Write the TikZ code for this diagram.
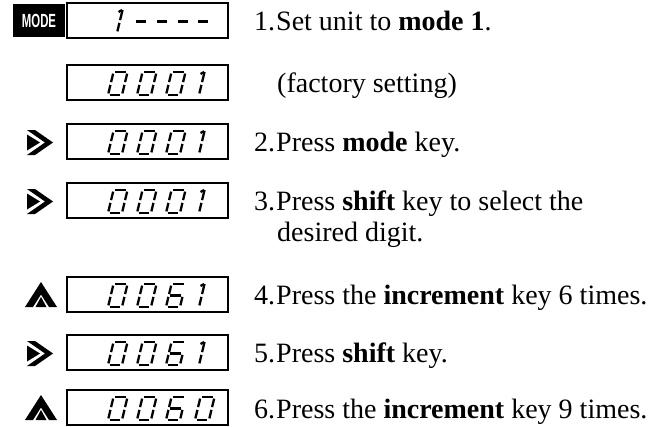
\documentclass[tikz,border=0pt]{standalone}
\usepackage{fontspec}
\setmainfont{Liberation Serif}
\setsansfont{Liberation Sans}
\usepackage{graphicx}
\usetikzlibrary{positioning}

\tikzset{
  display/.style={draw, line width=1.6pt, minimum width=161pt, minimum height=35pt, inner sep=0pt},
  segline/.style={line width=2.3pt, line cap=butt},
  dashseg/.style={line width=2.8pt, line cap=butt},
  steptext/.style={anchor=base west, inner sep=0pt, font=\fontsize{28}{32}\selectfont},
  keycap/.style={fill=black, text=white, minimum width=52pt, minimum height=33pt, inner sep=0pt,
    font=\sffamily\bfseries\fontsize{19}{19}\selectfont},
}

% segments of one seven-segment cell (w=14, h=23)
\def\sega{\draw[segline] (1.6,23) -- (12.4,23);}
\def\segb{\draw[segline] (14,21.4) -- (14,12.9);}
\def\segc{\draw[segline] (14,10.1) -- (14,1.6);}
\def\segd{\draw[segline] (1.6,0) -- (12.4,0);}
\def\sege{\draw[segline] (0,1.6) -- (0,10.1);}
\def\segf{\draw[segline] (0,12.9) -- (0,21.4);}
\def\segg{\draw[segline] (1.6,11.5) -- (12.4,11.5);}
% #1 = x of cell, #2 = y of bottom, #3 = segments
\newcommand\lcddigit[3]{%
  \begin{scope}[shift={(#1,#2)}, y=1pt, xslant=0.24]
    \foreach \s in {#3} {\csname seg\s\endcsname}
  \end{scope}}
% narrow one, #1 = x of stroke, #2 = y of bottom
\newcommand\lcdone[2]{%
  \begin{scope}[shift={(#1,#2)}, y=1pt, xslant=0.24]
    \draw[segline] (0,1.6) -- (0,10.1);
    \draw[segline] (0,12.9) -- (0,23);
    \draw[segline] (-3.5,21) -- (-0.5,23);
  \end{scope}}

\begin{document}
\begin{tikzpicture}[x=1pt, y=-1pt]
  \useasboundingbox (0,0) rectangle (658,426);

  % ---- step 1: mode key
  \node[keycap] (modekey) at (39,20.5) {\scalebox{0.6}[1]{MODE}};
  \node[display] (disp1) at (147.5,20.5) {};
  \lcdone{117}{33}
  \begin{scope}[shift={(0,33)}, y=1pt, xslant=0.24]
    \foreach \x in {133,154,175,195} \draw[dashseg] (\x,11.5) -- ++(10,0);
  \end{scope}

  % ---- factory setting, steps 2 and 3
  \foreach \t in {65,124,183} {
    \node[display] at (147.5,\t+17.5) {};
    \foreach \cx in {108,137,166} {\lcddigit{\cx}{\t+30}{a,b,c,d,e,f}}
    \lcdone{199}{\t+30}
  }

  % ---- steps 4 and 5
  \foreach \t in {277,335} {
    \node[display] at (147.5,\t+17.5) {};
    \lcddigit{108}{\t+30}{a,b,c,d,e,f}
    \lcddigit{137}{\t+30}{a,b,c,d,e,f}
    \lcddigit{166}{\t+30}{a,c,d,e,f,g}
    \lcdone{199}{\t+30}
  }

  % ---- step 6
  \node[display] (disp7) at (147.5,407.5) {};
  \lcddigit{108}{420}{a,b,c,d,e,f}
  \lcddigit{137}{420}{a,b,c,d,e,f}
  \lcddigit{166}{420}{a,c,d,e,f,g}
  \lcddigit{195}{420}{a,b,c,d,e,f}

  % ---- shift key
  \foreach \cy in {142.5,201.5,353.5} {
    \fill (27,\cy-12.5) -- (35,\cy-12.5) -- (53,\cy) -- (35,\cy+12.5) -- (27,\cy+12.5) -- (45,\cy) -- cycle;
    \fill (27,\cy-8) -- (40,\cy) -- (27,\cy+8) -- cycle;
  }
  % ---- increment key
  \foreach \cy in {294.5,407.5} {
    \fill (25,\cy+12.5) -- (41,\cy-12.5) -- (57,\cy+12.5) -- (49,\cy+12.5) -- (41,\cy) -- (33,\cy+12.5) -- cycle;
    \fill (35.5,\cy+12.5) -- (41,\cy+2.5) -- (46.5,\cy+12.5) -- cycle;
  }

  % ---- instructions
  \node[steptext] (step1) at (254,30) {1.\kern1pt Set unit to \textbf{mode 1}.};
  \node[steptext] (factory) at (277,92) {(factory setting)};
  \node[steptext] (step2) at (254,151) {2.\kern1pt Press \textbf{mode} key.};
  \node[steptext] (step3) at (254,210) {3.\kern1pt Press \textbf{shift} key to select the};
  \node[steptext] (step3b) at (277,241) {desired digit.};
  \node[steptext] (step4) at (254,304) {4.\kern1pt Press the \textbf{increment} key 6 times.};
  \node[steptext] (step5) at (254,362) {5.\kern1pt Press \textbf{shift} key.};
  \node[steptext] (step6) at (254,418) {6.\kern1pt Press the \textbf{increment} key 9 times.};
\end{tikzpicture}
\end{document}
